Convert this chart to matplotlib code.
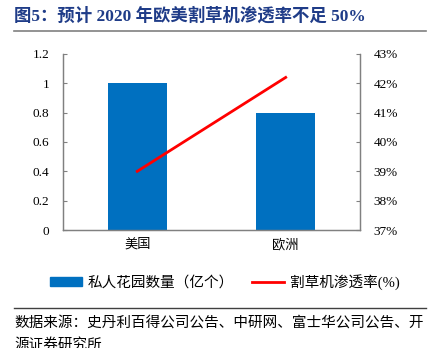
import numpy as np
import matplotlib.pyplot as plt
from matplotlib.lines import Line2D
from matplotlib.patches import Patch

plt.rcParams['font.family'] = ['Liberation Serif', 'Noto Sans CJK SC', 'DejaVu Sans']

# data
regions = ['美国', '欧洲']
gardens = [1.0, 0.8]          # 私人花园数量（亿个）
penetration = [39.0, 42.2]    # 割草机渗透率(%)

fig = plt.figure(figsize=(4.36, 3.48), dpi=100)
ax = fig.add_axes([0.1445, 0.339, 0.681, 0.506])
x = np.arange(len(regions))
ax.bar(x, gardens, width=0.4, color='#0070C0', zorder=2)
ax.set_xlim(-0.5, 1.5)
ax.set_ylim(0, 1.2)
ax.set_yticks(np.arange(0, 1.21, 0.2))
ax.set_yticklabels(['0', '0.2', '0.4', '0.6', '0.8', '1', '1.2'])
ax.set_xticks(x)
ax.set_xticklabels(regions)

ax2 = ax.twinx()
ax2.plot(x, penetration, color='#FF0000', lw=2)
ax2.set_ylim(37, 43)
ax2.set_yticks(range(37, 44))
ax2.set_yticklabels([f'{v}%' for v in range(37, 44)])

for a in (ax, ax2):
    for s in a.spines.values():
        s.set_color('#808080')
        s.set_linewidth(0.9)
    a.spines['top'].set_visible(False)
    a.tick_params(labelsize=9.5, colors='#808080', labelcolor='black', direction='in', length=3)
ax.tick_params(axis='x', length=0, pad=6)
ax.tick_params(axis='y', pad=10)
ax2.tick_params(axis='y', pad=10)

handles = [Patch(color='#0070C0'), Line2D([], [], color='#FF0000', lw=2)]
fig.legend(handles, ['私人花园数量（亿个）', '割草机渗透率(%)'],
           loc='center left', bbox_to_anchor=(0.115, 0.19), ncol=2, frameon=False,
           fontsize=10.5, handlelength=2.2, handleheight=0.5, handletextpad=0.4,
           columnspacing=1.2, borderpad=0, borderaxespad=0)

# heading and source
fig.text(0.033, 0.953, '图5：预计 2020 年欧美割草机渗透率不足 50%', fontsize=12.5,
         fontweight='bold', color='#1F3C88', va='center')
fig.add_artist(Line2D([0.032, 0.977], [0.911, 0.911], color='#808080', lw=1.2))
fig.add_artist(Line2D([0.032, 0.977], [0.115, 0.115], color='#404040', lw=1.0))
fig.text(0.033, 0.072, '数据来源：史丹利百得公司公告、中研网、富士华公司公告、开',
         fontsize=10.5, va='center')
fig.text(0.033, 0.008, '源证券研究所', fontsize=10.5, va='center')

fig.savefig('out.png', dpi=100)
